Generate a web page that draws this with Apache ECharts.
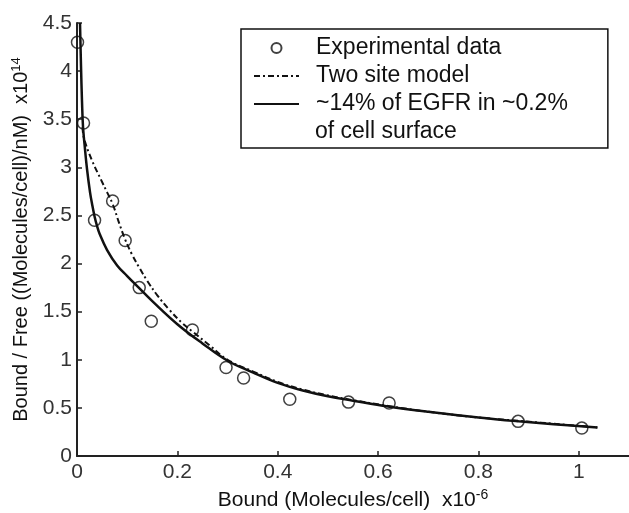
<!DOCTYPE html>
<html>
<head>
<meta charset="utf-8">
<script src="https://cdn.jsdelivr.net/npm/echarts@6/dist/echarts.min.js"></script>
<style>
  html, body { margin: 0; padding: 0; background: #fff; }
  #main { width: 629px; height: 513px; }
</style>
</head>
<body>
<div id="main"></div>
<script>
// experimental points (x in 1e6 molecules/cell, y in 1e14)
const expX = [0.001, 0.013, 0.035, 0.071, 0.096, 0.124, 0.148, 0.23, 0.297, 0.332, 0.424, 0.541, 0.622, 0.879, 1.006];
const expY = [4.30, 3.46, 2.45, 2.65, 2.24, 1.75, 1.40, 1.31, 0.92, 0.81, 0.59, 0.56, 0.55, 0.36, 0.29];

// two site model (dash-dot)
const twoX = [0.011, 0.014, 0.03, 0.048, 0.06, 0.071, 0.084, 0.096, 0.11, 0.125, 0.14, 0.16, 0.184, 0.21, 0.231, 0.264, 0.3, 0.35, 0.4, 0.45, 0.5, 0.55, 0.62, 0.7, 0.8, 0.88, 0.95, 1.037];
const twoY = [3.42, 3.30, 3.07, 2.87, 2.74, 2.62, 2.42, 2.25, 2.09, 1.95, 1.82, 1.67, 1.52, 1.38, 1.29, 1.15, 1.00, 0.88, 0.77, 0.69, 0.63, 0.58, 0.52, 0.46, 0.40, 0.365, 0.335, 0.297];

// ~14% of EGFR in ~0.2% of cell surface (solid)
const solX = [0.006, 0.008, 0.010, 0.012, 0.015, 0.02, 0.026, 0.03, 0.035, 0.04, 0.045, 0.06, 0.08, 0.1, 0.123, 0.15, 0.2, 0.25, 0.3, 0.35, 0.4, 0.45, 0.5, 0.55, 0.62, 0.7, 0.8, 0.88, 0.95, 1.037];
const solY = [4.5, 4.05, 3.68, 3.42, 3.24, 2.98, 2.74, 2.62, 2.49, 2.39, 2.31, 2.14, 1.98, 1.87, 1.75, 1.61, 1.37, 1.17, 0.99, 0.87, 0.76, 0.68, 0.62, 0.575, 0.515, 0.46, 0.40, 0.36, 0.33, 0.295];

const xTicks = [0, 0.2, 0.4, 0.6, 0.8, 1];
const yTicks = [0, 0.5, 1, 1.5, 2, 2.5, 3, 3.5, 4, 4.5];

const names = ['Experimental data', 'Two site model', '~14% of EGFR in ~0.2%'];
const extraLine = 'of cell surface';

const FONT = 'Liberation Sans, Arial, sans-serif';

function zip(xs, ys) {
  return xs.map(function (x, i) { return [x, ys[i]]; });
}

const chart = echarts.init(document.getElementById('main'), null, { renderer: 'canvas' });

const option = {
  animation: false,
  backgroundColor: '#fff',
  grid: { left: 77, right: 0, top: 23, bottom: 57, outerBoundsMode: 'none', containLabel: false },
  legend: {
    orient: 'vertical',
    left: 241,
    top: 29,
    padding: [7, 40, 32, 12],
    itemGap: 4,
    itemWidth: 45,
    itemHeight: 10,
    borderColor: '#111',
    borderWidth: 1.5,
    backgroundColor: '#fff',
    textStyle: { fontFamily: FONT, fontSize: 23, lineHeight: 24, color: '#111', padding: [0, 0, 0, 12] },
    data: [
      { name: names[0] },
      { name: names[1], itemStyle: { opacity: 0 } },
      { name: names[2], itemStyle: { opacity: 0 } }
    ]
  },
  graphic: [{
    type: 'text',
    left: 315,
    top: 120,
    z: 100,
    style: { text: extraLine, font: '23px ' + FONT, fill: '#111' }
  }],
  xAxis: {
    type: 'value',
    min: 0,
    max: 1.1,
    name: '{n|Bound (Molecules/cell)  x10}{s|-6}',
    nameLocation: 'middle',
    nameGap: 30,
    nameTextStyle: {
      rich: {
        n: { fontFamily: FONT, fontSize: 21, color: '#111', verticalAlign: 'bottom' },
        s: { fontFamily: FONT, fontSize: 14, color: '#111', verticalAlign: 'bottom', padding: [0, 0, 9, 0] }
      }
    },
    splitLine: { show: false },
    axisLine: { lineStyle: { color: '#222', width: 2 } },
    axisTick: { inside: true, length: 5, customValues: xTicks, lineStyle: { color: '#222', width: 1.5 } },
    axisLabel: { customValues: xTicks, fontFamily: FONT, fontSize: 21, color: '#333', margin: 6 }
  },
  yAxis: {
    type: 'value',
    min: 0,
    max: 4.5,
    interval: 0.5,
    name: '{n|Bound / Free ((Molecules/cell)/nM)  x10}{s|14}',
    nameLocation: 'middle',
    nameGap: 43,
    nameTextStyle: {
      rich: {
        n: { fontFamily: FONT, fontSize: 20, color: '#111', verticalAlign: 'bottom' },
        s: { fontFamily: FONT, fontSize: 13, color: '#111', verticalAlign: 'bottom', padding: [0, 0, 9, 0] }
      }
    },
    splitLine: { show: false },
    axisLine: { show: true, lineStyle: { color: '#222', width: 2 } },
    axisTick: { show: true, inside: true, length: 5, customValues: yTicks, lineStyle: { color: '#222', width: 1.5 } },
    axisLabel: { customValues: yTicks, fontFamily: FONT, fontSize: 21, color: '#333', margin: 5 }
  },
  series: [
    {
      name: names[0],
      type: 'scatter',
      symbol: 'circle',
      symbolSize: 12,
      z: 5,
      itemStyle: { color: 'rgba(255,255,255,0)', borderColor: '#111', borderWidth: 1.5 },
      data: zip(expX, expY)
    },
    {
      name: names[1],
      type: 'line',
      symbol: 'none',
      smooth: 0.4,
      lineStyle: { color: '#111', width: 2, type: [6, 3, 2, 3] },
      itemStyle: { color: '#111' },
      data: zip(twoX, twoY)
    },
    {
      name: names[2],
      type: 'line',
      symbol: 'none',
      smooth: 0.4,
      lineStyle: { color: '#111', width: 2.5 },
      itemStyle: { color: '#111' },
      data: zip(solX, solY)
    }
  ]
};

chart.setOption(option);
</script>
</body>
</html>
